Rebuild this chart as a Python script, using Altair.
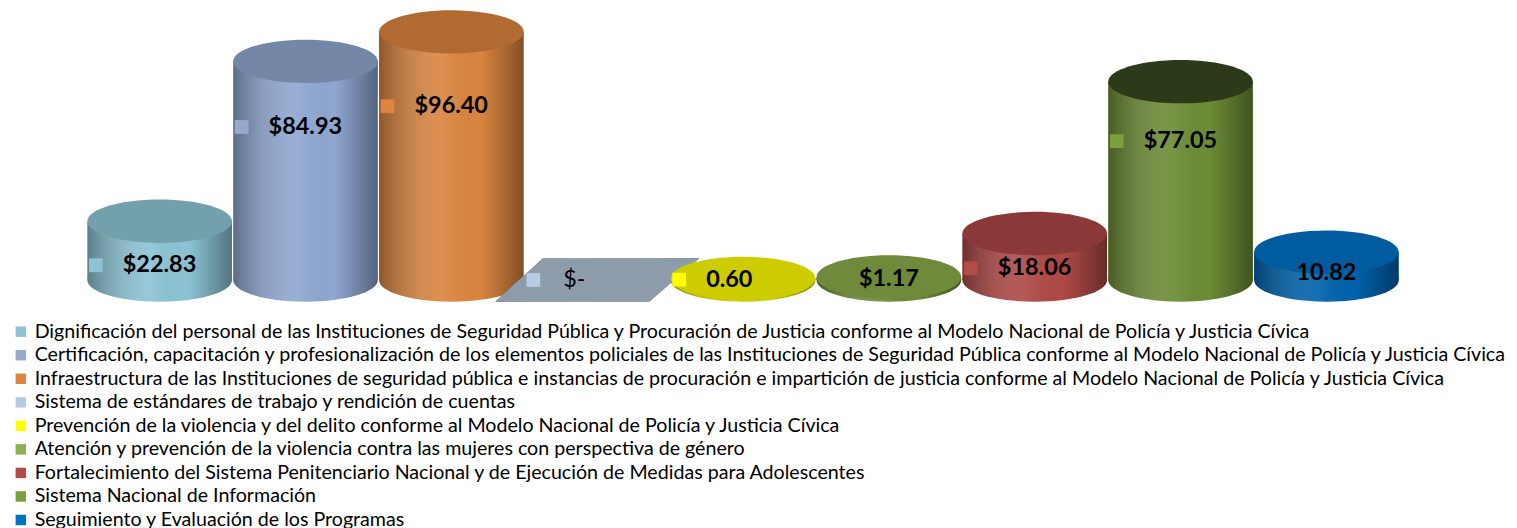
import altair as alt
import pandas as pd

cats = [
    "Dignificación del personal de las Instituciones de Seguridad Pública y Procuración de Justicia conforme al Modelo Nacional de Policía y Justicia Cívica",
    "Certificación, capacitación y profesionalización de los elementos policiales de las Instituciones de Seguridad Pública conforme al Modelo Nacional de Policía y Justicia Cívica",
    "Infraestructura de las Instituciones de seguridad pública e instancias de procuración e impartición de justicia conforme al Modelo Nacional de Policía y Justicia Cívica",
    "Sistema de estándares de trabajo y rendición de cuentas",
    "Prevención de la violencia y del delito conforme al Modelo Nacional de Policía y Justicia Cívica",
    "Atención y prevención de la violencia contra las mujeres con perspectiva de género",
    "Fortalecimiento del Sistema Penitenciario Nacional y de Ejecución de Medidas para Adolescentes",
    "Sistema Nacional de Información",
    "Seguimiento y Evaluación de los Programas",
]
values = [22.83, 84.93, 96.40, 0.0, 0.60, 1.17, 18.06, 77.05, 10.82]
labels = ["$22.83", "$84.93", "$96.40", "$-", "0.60", "$1.17", "$18.06", "$77.05", "10.82"]
has_marker = [1, 1, 1, 1, 1, 0, 1, 1, 0]

legend_colors = ["#8FC3D3", "#98A9CE", "#DD853E", "#B7CCE4", "#FFFF00",
                 "#8DB050", "#B34B46", "#7B9E3E", "#0070C0"]
body_colors = ["#8CC3D4", "#8FA7D1", "#DA8540", "#8E9BAB", "#CCCC00",
               "#6E8A3A", "#AE4946", "#6C8C35", "#0062AC"]
top_colors = ["#72A0AC", "#7587A6", "#B06A32", "#8E9BAB", "#CCCC00",
              "#6E8A3A", "#8B3838", "#2D3A19", "#005C9E"]

df = pd.DataFrame({"cat": cats, "v": values, "lab": labels, "mk": has_marker})

ELL = ("M-1,0 C-1,-0.166 -0.552,-0.3 0,-0.3 C0.552,-0.3 1,-0.166 1,0 "
       "C1,0.166 0.552,0.3 0,0.3 C-0.552,0.3 -1,0.166 -1,0 Z")
PARA = "M-0.75,-0.3 L1.41,-0.3 L0.72,0.3 L-1.41,0.3 Z"
SYM = 145 * 145

xs = alt.X("cat:N", sort=cats, scale=alt.Scale(domain=cats, paddingInner=0, paddingOuter=0.54), axis=None)
yscale = alt.Scale(domain=[0, 105.4], nice=False)
shape_enc = alt.condition(alt.datum.v == 0, alt.value(PARA), alt.value(ELL))

shade = alt.Gradient(
    gradient="linear", x1=0, x2=1, y1=0, y2=0,
    stops=[
        alt.GradientStop(color="rgba(0,0,0,0.35)", offset=0),
        alt.GradientStop(color="rgba(255,255,255,0.08)", offset=0.45),
        alt.GradientStop(color="rgba(0,0,0,0)", offset=0.7),
        alt.GradientStop(color="rgba(0,0,0,0.4)", offset=1),
    ],
)

base = alt.Chart(df).transform_calculate(
    z="0",
    ly="datum.v > 50 ? datum.v * 0.7 : datum.v * 0.25",
)

bottom = base.mark_point(filled=True, size=SYM, opacity=1, strokeWidth=0).encode(
    x=xs, y=alt.Y("z:Q", scale=yscale, axis=None), shape=shape_enc,
    fill=alt.Fill("cat:N", scale=alt.Scale(domain=cats, range=body_colors), legend=None),
)
bottom_shade = base.mark_point(filled=True, size=SYM, opacity=1, strokeWidth=0, fill=shade).encode(
    x=xs, y=alt.Y("z:Q", scale=yscale, axis=None), shape=shape_enc,
)
body = base.mark_bar(size=145).encode(
    x=xs, y=alt.Y("v:Q", scale=yscale, axis=None),
    fill=alt.Fill("cat:N", scale=alt.Scale(domain=cats, range=body_colors), legend=None),
)
body_shade = base.mark_bar(size=145, fill=shade).encode(
    x=xs, y=alt.Y("v:Q", scale=yscale, axis=None),
)
top = base.mark_point(filled=True, size=SYM, opacity=1, strokeWidth=0).encode(
    x=xs, y=alt.Y("v:Q", scale=yscale, axis=None), shape=shape_enc,
    fill=alt.Fill("cat:N", scale=alt.Scale(domain=cats, range=top_colors), legend=None),
)

markers = base.transform_filter("datum.mk == 1").mark_point(
    shape="square", filled=True, size=190, opacity=1, strokeWidth=0, xOffset=-64
).encode(
    x=xs, y=alt.Y("ly:Q", scale=yscale, axis=None),
    color=alt.Color(
        "cat:N", sort=cats, scale=alt.Scale(domain=cats, range=legend_colors),
        legend=alt.Legend(
            orient="none", legendX=3, legendY=314, direction="vertical", title=None,
            symbolType="square", symbolSize=110, symbolStrokeWidth=0, symbolOpacity=1,
            labelFont="Lato", labelFontSize=19.7, labelColor="black", labelLimit=1600,
            rowPadding=2.6, labelOffset=4, padding=0,
        ),
    ),
)

txt_left = base.transform_filter("datum.mk == 1 && datum.v > 0").mark_text(
    align="left", baseline="middle", dx=-37, font="Lato", fontSize=23.5, fontWeight="bold", color="black"
).encode(x=xs, y=alt.Y("ly:Q", scale=yscale, axis=None), text="lab:N")
txt_zero = base.transform_filter("datum.v == 0").mark_text(
    align="left", baseline="middle", dx=-34, font="Lato", fontSize=23.5, color="black"
).encode(x=xs, y=alt.Y("ly:Q", scale=yscale, axis=None), text="lab:N")
txt_center = base.transform_filter("datum.mk == 0").mark_text(
    align="center", baseline="middle", font="Lato", fontSize=23.5, fontWeight="bold", color="black"
).encode(x=xs, y=alt.Y("ly:Q", scale=yscale, axis=None), text="lab:N")

chart = alt.layer(
    bottom, bottom_shade, body, body_shade, top, markers, txt_left, txt_zero, txt_center
).resolve_scale(fill="independent").properties(
    width=1474, height=272, padding={"left": 0, "top": 0, "right": 0, "bottom": 0},
    background="white",
).configure_view(stroke=None)

chart.save("out.html", embed_options={"renderer": "svg", "actions": False})
